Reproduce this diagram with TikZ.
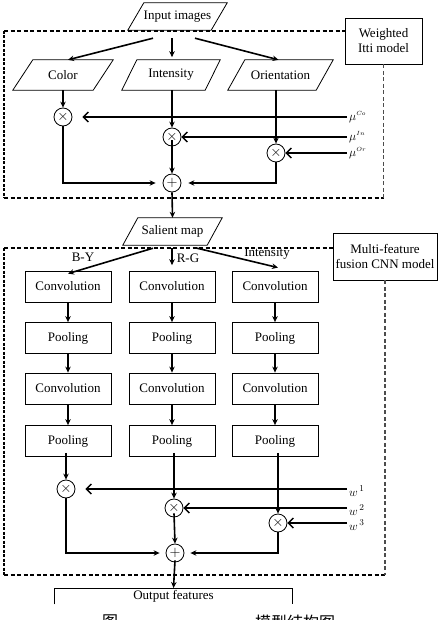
\documentclass[tikz,border=0pt]{standalone}
\usepackage{fontspec}
\setmainfont{Liberation Serif}
\newfontfamily\cjk{Noto Sans CJK SC}
\usetikzlibrary{arrows.meta}
\newcommand\drawpara[2]{\draw[line width=0.8pt] (#1.south west) -- ([xshift=#2 pt]#1.north west) -- (#1.north east) -- ([xshift=-#2 pt]#1.south east) -- cycle;}
\begin{document}
\begin{tikzpicture}[x=1pt,y=-1pt,
  font=\fontsize{13}{15}\selectfont,
  arr/.style={line width=1.6pt,-{Stealth[length=6pt,width=5.5pt]}},
  warr/.style={line width=1.6pt,-{Straight Barb[length=5pt,width=10pt,line width=1.4pt]}},
  pnode/.style={inner sep=0,minimum height=#1},
  cbox/.style={draw,line width=0.8pt,minimum width=86pt,minimum height=31pt,inner sep=0},
  op/.style={circle,draw,line width=0.8pt,minimum size=18pt,inner sep=0,font=\fontsize{14}{14}\selectfont},
  lbox/.style={draw,line width=0.8pt,align=center,inner sep=0,font=\fontsize{13}{15}\selectfont},
  topdash/.style={line width=1.2pt,dash pattern=on 4pt off 2.5pt},
  leftdash/.style={line width=2pt,dash pattern=on 3pt off 1.5pt},
  rightdash/.style={line width=1.5pt,gray!60!black,dash pattern=on 4pt off 2.5pt},
  wlab/.style={anchor=west,inner sep=2pt}
]
\useasboundingbox (0,0) rectangle (442,620);
\clip (0,0) rectangle (442,620);

% ---------------- Weighted Itti model ----------------
\node[lbox,minimum width=77pt,minimum height=46pt] (wit) at (383.5,41) {Weighted\\Itti model};
\draw[topdash] (4,31) -- (wit.west |- 0,31);
\draw[leftdash] (4,31) -- (4,198);
\draw[topdash] (4,198) -- (wit.south |- 0,198);
\draw[rightdash] (wit.south) -- (wit.south |- 0,198);

\node[pnode=27pt,minimum width=99pt] (inp) at (177.5,16.5) {Input images};
\drawpara{inp}{16}
\node[pnode=30pt,minimum width=100pt] (color) at (63,75) {Color};
\drawpara{color}{20}
\node[pnode=30pt,minimum width=98pt] (int) at (171,75) {Intensity};
\drawpara{int}{15}
\node[pnode=30pt,minimum width=105pt] (ori) at (280.5,75) {Orientation};
\drawpara{ori}{17}

\draw[arr] ([shift={(-24.5,8)}]inp.south) -- ([xshift=5pt]color.north);
\draw[arr] ([shift={(-5.5,8)}]inp.south) -- ++(0,19);
\draw[arr] ([shift={(17.5,8)}]inp.south) -- ([xshift=-2pt]ori.north);

\node[op] (m1) at (63,117) {$\times$};
\node[op] (m2) at (172,137) {$\times$};
\node[op] (m3) at (276,153) {$\times$};
\node[op] (s1) at (172,183) {$+$};

\draw[arr] (color.south) -- (m1.north);
\draw[arr] (m2 |- int.south) -- (m2.north);
\draw[arr] (m3 |- ori.south) -- (m3.north);

\coordinate (muCo) at (347,117);
\coordinate (muIn) at (347,137);
\coordinate (muOr) at (347,153);
\draw[warr] (muCo) -- ([xshift=10pt]m1.east);
\draw[warr] (muIn) -- (m2.east);
\draw[warr] (muOr) -- (m3.east);
\node[wlab] at (muCo) {\fontsize{12}{12}\selectfont$\mu^{\scriptscriptstyle Co}$};
\node[wlab] at (muIn) {\fontsize{12}{12}\selectfont$\mu^{\scriptscriptstyle In}$};
\node[wlab] at (muOr) {\fontsize{12}{12}\selectfont$\mu^{\scriptscriptstyle Or}$};

\draw[arr] (m1.south) |- ([xshift=-7pt]s1.west);
\draw[arr] (m3.south) |- ([xshift=7pt]s1.east);
\draw[arr] ([yshift=6pt]m2.south) -- (s1.north);

% ---------------- Multi-feature fusion CNN model ----------------
\node[pnode=27pt,minimum width=99pt] (sal) at (172.5,231.5) {Salient map};
\drawpara{sal}{15}
\draw[arr] (s1.south) -- (sal.north);

\node[lbox,minimum width=104pt,minimum height=47pt] (mf) at (385,256.5) {Multi-feature\\fusion CNN model};
\draw[topdash] (4,248) -- (mf.west |- 0,248);
\draw[leftdash] (4,248) -- (4,575);
\draw[topdash] (4,575) -- (mf.south |- 0,575);
\draw[rightdash] (mf.south) -- (mf.south |- 0,575);

\foreach \c/\x in {a/68,b/172,c/275}{
  \node[cbox] (\c1) at (\x,286.5) {Convolution};
  \node[cbox] (\c2) at (\x,338) {Pooling};
  \node[cbox] (\c3) at (\x,388.5) {Convolution};
  \node[cbox] (\c4) at (\x,441) {Pooling};
  \draw[arr] (\c1.south) -- (\c2.north);
  \draw[arr] (\c2.south) -- (\c3.north);
  \draw[arr] (\c3.south) -- (\c4.north);
}

\draw[arr] ([shift={(-19.5,3)}]sal.south) -- ([yshift=-3pt]a1.north);
\draw[arr] ([shift={(-0.5,3)}]sal.south) -- ++(0,17);
\draw[arr] ([shift={(24.5,3)}]sal.south) -- ([shift={(3,-3)}]c1.north);
\node at (83,257) {B-Y};
\node at (188,258) {R-G};
\node at (267,254) {Intensity};

\node[op] (n1) at (66,489) {$\times$};
\node[op] (n2) at (174,508) {$\times$};
\node[op] (n3) at (278,523) {$\times$};
\node[op] (s2) at (175,553) {$+$};

\draw[arr] ([yshift=4pt]a4.south -| n1) -- (n1.north);
\draw[arr] ([yshift=4pt]b4.south -| n2) -- (n2.north);
\draw[arr] ([yshift=4pt]c4.south -| n3) -- (n3.north);

\coordinate (w1) at (347,489);
\coordinate (w2) at (347,508);
\coordinate (w3) at (347,523);
\draw[warr] (w1) -- ([xshift=10pt]n1.east);
\draw[warr] (w2) -- (n2.east);
\draw[warr] (w3) -- (n3.east);
\node[wlab] at ([yshift=-2pt]w1) {\fontsize{13}{13}\selectfont$w^{\,1}$};
\node[wlab] at ([yshift=-2pt]w2) {\fontsize{13}{13}\selectfont$w^{\,2}$};
\node[wlab] at ([yshift=-2pt]w3) {\fontsize{13}{13}\selectfont$w^{\,3}$};

\draw[arr] (n1.south) |- ([xshift=-6pt]s2.west);
\draw[arr] (n3.south) |- ([xshift=6pt]s2.east);
\draw[arr] ([yshift=4pt]n2.south) -- (s2.north);

\node[anchor=north,minimum width=237pt,minimum height=16pt,inner xsep=0,inner ysep=0] (out) at (173.5,588) {Output features};
\draw[line width=0.8pt] (out.south west) |- (out.north east) -- (out.south east);
\draw[arr] ([yshift=2pt]s2.south) -- (out.north);

\node[anchor=north,inner sep=0] (cap1) at (110,614.5) {\cjk\fontsize{16}{16}\selectfont 图};
\node[anchor=north west,inner sep=0] (cap2) at (255,614.5) {\cjk\fontsize{16}{16}\selectfont 模型结构图};
\end{tikzpicture}
\end{document}
